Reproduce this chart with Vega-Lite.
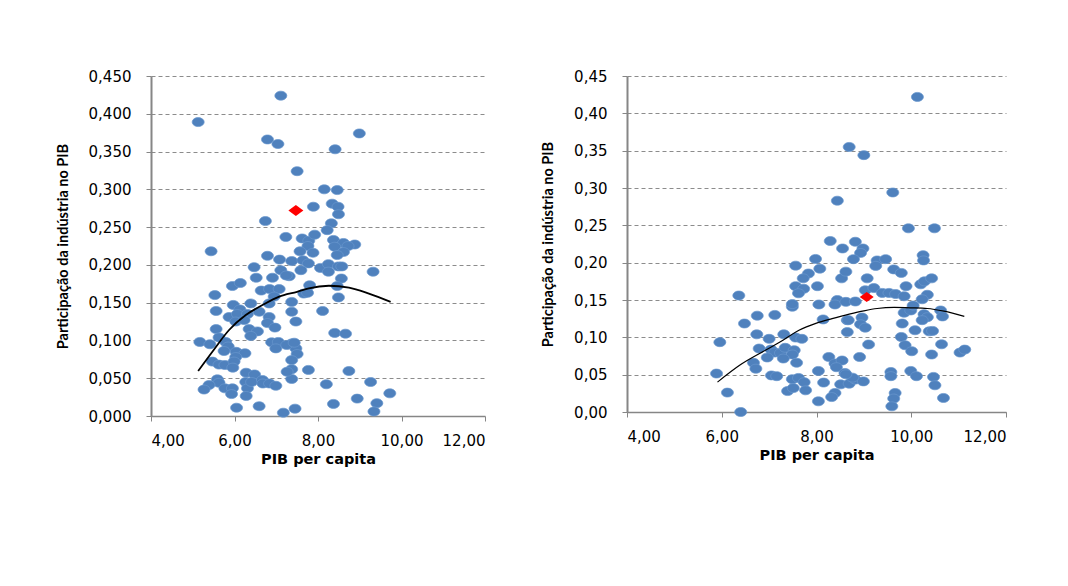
{
  "$schema": "https://vega.github.io/schema/vega-lite/v6.json",
  "padding": {"left": 55, "top": 69, "right": 5, "bottom": 5},
  "bounds": "flush",
  "spacing": 142,
  "config": {
    "locale": {"number": {"decimal": ",", "thousands": ".", "grouping": [3], "currency": ["", ""]}},
    "view": {"stroke": null},
    "axis": {
      "labelFont": "DejaVu Sans", "labelFontSize": 15, "labelColor": "#000000",
      "titleColor": "#000000", "titleFontWeight": "bold",
      "domainColor": "#868686", "tickColor": "#868686", "tickSize": 5
    },
    "axisX": {"grid": false, "domainWidth": 1.5, "labelPadding": 12, "titlePadding": 4, "titleFont": "DejaVu Sans", "titleFontSize": 14.5},
    "axisY": {"grid": true, "gridDash": [4, 3], "gridColor": "#8c8c8c", "gridWidth": 1, "domainWidth": 2, "labelPadding": 15, "titlePadding": 18, "titleFont": "Lato", "titleFontSize": 14.5}
  },
  "datasets": {
    "left": [
      {"x":7.11,"y":0.424},{"x":5.13,"y":0.389},{"x":6.79,"y":0.366},{"x":7.04,"y":0.360},{"x":8.99,"y":0.374},{"x":8.41,"y":0.353},{"x":7.50,"y":0.324},{"x":8.15,"y":0.300},{"x":8.46,"y":0.299},
      {"x":7.89,"y":0.277},{"x":8.34,"y":0.281},{"x":8.48,"y":0.277},{"x":8.49,"y":0.267},{"x":6.74,"y":0.258},{"x":8.32,"y":0.255},{"x":8.22,"y":0.246},{"x":7.23,"y":0.237},{"x":7.62,"y":0.235},{"x":7.78,"y":0.232},{"x":7.92,"y":0.240},{"x":8.37,"y":0.233},{"x":8.61,"y":0.229},{"x":8.88,"y":0.227},{"x":8.72,"y":0.225},{"x":8.40,"y":0.224},{"x":7.76,"y":0.225},{"x":5.44,"y":0.218},
      {"x":7.57,"y":0.218},{"x":7.88,"y":0.216},{"x":8.61,"y":0.217},{"x":8.46,"y":0.213},{"x":7.37,"y":0.205},{"x":7.64,"y":0.206},{"x":7.77,"y":0.202},{"x":7.59,"y":0.193},{"x":8.06,"y":0.196},{"x":8.25,"y":0.201},{"x":8.25,"y":0.191},{"x":8.49,"y":0.198},{"x":8.57,"y":0.198},{"x":9.32,"y":0.191},{"x":8.56,"y":0.182},{"x":7.31,"y":0.185},{"x":7.80,"y":0.173},{"x":8.46,"y":0.172},{"x":7.66,"y":0.162},{"x":7.75,"y":0.163},{"x":8.49,"y":0.157},{"x":7.37,"y":0.151},{"x":7.37,"y":0.138},{"x":8.11,"y":0.139},{"x":7.47,"y":0.125},{"x":8.40,"y":0.110},{"x":8.66,"y":0.109},{"x":7.37,"y":0.096},{"x":7.47,"y":0.0895},{"x":7.50,"y":0.082},{"x":7.37,"y":0.074},{"x":7.37,"y":0.062},{"x":7.77,"y":0.061},{"x":8.74,"y":0.0595},{"x":7.37,"y":0.049},{"x":8.20,"y":0.042},{"x":9.26,"y":0.045},{"x":9.72,"y":0.030},{"x":8.94,"y":0.023},{"x":9.41,"y":0.017},{"x":8.37,"y":0.016},{"x":9.34,"y":0.006},{"x":7.45,"y":0.0097},
      {"x":6.79,"y":0.212},{"x":7.08,"y":0.207},{"x":6.47,"y":0.197},{"x":6.52,"y":0.183},{"x":6.91,"y":0.183},{"x":7.11,"y":0.193},{"x":7.24,"y":0.186},{"x":5.95,"y":0.172},{"x":6.14,"y":0.176},{"x":6.64,"y":0.166},{"x":6.84,"y":0.168},{"x":7.07,"y":0.168},{"x":6.95,"y":0.158},{"x":5.53,"y":0.160},{"x":5.97,"y":0.147},{"x":6.39,"y":0.149},{"x":6.83,"y":0.149},{"x":5.56,"y":0.139},{"x":6.13,"y":0.141},{"x":5.87,"y":0.131},{"x":6.07,"y":0.135},{"x":6.31,"y":0.135},{"x":6.59,"y":0.138},{"x":6.03,"y":0.125},{"x":6.23,"y":0.127},{"x":6.83,"y":0.131},{"x":6.79,"y":0.123},{"x":6.97,"y":0.117},{"x":5.56,"y":0.115},{"x":5.63,"y":0.104},{"x":6.35,"y":0.115},{"x":6.55,"y":0.112},{"x":6.39,"y":0.106},{"x":5.17,"y":0.098},{"x":5.41,"y":0.095},{"x":5.79,"y":0.098},{"x":5.85,"y":0.092},{"x":5.75,"y":0.086},{"x":6.04,"y":0.085},{"x":6.25,"y":0.083},{"x":6.03,"y":0.078},{"x":6.89,"y":0.0975},{"x":7.05,"y":0.098},{"x":6.99,"y":0.0895},{"x":7.25,"y":0.094},{"x":7.43,"y":0.097},{"x":5.47,"y":0.072},{"x":5.63,"y":0.068},{"x":5.77,"y":0.0675},{"x":5.99,"y":0.072},{"x":5.96,"y":0.064},{"x":7.26,"y":0.0586},{"x":6.28,"y":0.0573},{"x":6.48,"y":0.055},{"x":5.59,"y":0.0485},{"x":5.63,"y":0.044},{"x":5.39,"y":0.041},{"x":5.27,"y":0.035},{"x":5.77,"y":0.0366},{"x":5.95,"y":0.0366},{"x":5.93,"y":0.029},{"x":6.27,"y":0.045},{"x":6.31,"y":0.0366},{"x":6.41,"y":0.045},{"x":6.67,"y":0.0476},{"x":6.68,"y":0.043},{"x":6.84,"y":0.043},{"x":6.99,"y":0.040},{"x":6.28,"y":0.0265},{"x":6.05,"y":0.011},{"x":6.59,"y":0.013},{"x":7.17,"y":0.0044}
    ],
    "leftRed": [{"x":7.47,"y":0.272}],
    "leftFit": [
      {"x":5.13,"y":0.0595},{"x":5.47,"y":0.085},{"x":5.87,"y":0.1138},{"x":6.27,"y":0.1336},{"x":6.67,"y":0.1468},{"x":7.07,"y":0.158},{"x":7.5,"y":0.1644},{"x":7.78,"y":0.169},{"x":8.26,"y":0.1724},{"x":8.74,"y":0.170},{"x":9.22,"y":0.162},{"x":9.74,"y":0.151}
    ],
    "right": [
      {"x":10.13,"y":0.422},{"x":8.69,"y":0.355},{"x":9.00,"y":0.344},{"x":9.61,"y":0.294},{"x":8.44,"y":0.283},{"x":9.94,"y":0.246},{"x":10.49,"y":0.246},{"x":8.29,"y":0.229},{"x":8.82,"y":0.228},{"x":8.55,"y":0.219},{"x":8.98,"y":0.219},{"x":8.93,"y":0.213},
      {"x":7.98,"y":0.205},{"x":8.07,"y":0.192},{"x":7.56,"y":0.196},{"x":7.83,"y":0.1855},{"x":7.72,"y":0.179},{"x":7.56,"y":0.1685},{"x":7.73,"y":0.165},{"x":7.62,"y":0.159},{"x":8.02,"y":0.1685},{"x":8.53,"y":0.179},{"x":8.62,"y":0.188},{"x":8.78,"y":0.2047},
      {"x":6.36,"y":0.156},{"x":7.49,"y":0.141},{"x":7.49,"y":0.1445},{"x":8.05,"y":0.144},{"x":8.44,"y":0.150},{"x":8.39,"y":0.144},{"x":8.62,"y":0.1475},{"x":8.14,"y":0.124},{"x":8.65,"y":0.123},{"x":8.65,"y":0.107},
      {"x":6.75,"y":0.129},{"x":7.12,"y":0.130},{"x":6.48,"y":0.1185},{"x":6.74,"y":0.104},{"x":5.96,"y":0.0935},{"x":7.31,"y":0.104},{"x":7.56,"y":0.0997},{"x":7.69,"y":0.098},{"x":7.00,"y":0.098},{"x":6.79,"y":0.085},{"x":7.04,"y":0.0836},{"x":7.12,"y":0.0796},{"x":7.24,"y":0.079},{"x":7.34,"y":0.086},{"x":7.53,"y":0.0827},{"x":7.49,"y":0.077},{"x":6.96,"y":0.073},{"x":7.30,"y":0.0716},{"x":7.58,"y":0.066},{"x":6.67,"y":0.066},{"x":6.72,"y":0.058},{"x":8.26,"y":0.0737},{"x":8.39,"y":0.065},{"x":8.54,"y":0.069},{"x":8.42,"y":0.060},{"x":5.89,"y":0.0515},{"x":7.05,"y":0.049},{"x":7.16,"y":0.048},{"x":7.49,"y":0.044},{"x":7.62,"y":0.0456},{"x":7.74,"y":0.040},{"x":7.77,"y":0.029},{"x":7.39,"y":0.028},{"x":7.51,"y":0.032},{"x":8.04,"y":0.055},{"x":8.15,"y":0.0394},{"x":8.51,"y":0.037},{"x":8.39,"y":0.0255},{"x":8.32,"y":0.020},{"x":8.04,"y":0.0143},{"x":8.60,"y":0.0523},{"x":6.12,"y":0.026},{"x":6.40,"y":0.000},
      {"x":9.28,"y":0.203},{"x":9.46,"y":0.2047},{"x":9.25,"y":0.1957},{"x":10.25,"y":0.210},{"x":10.26,"y":0.203},{"x":9.63,"y":0.191},{"x":9.79,"y":0.1863},{"x":9.07,"y":0.179},{"x":9.03,"y":0.163},{"x":9.21,"y":0.166},{"x":9.89,"y":0.1685},{"x":10.20,"y":0.171},{"x":10.28,"y":0.175},{"x":10.43,"y":0.179},{"x":9.39,"y":0.1595},{"x":9.53,"y":0.1595},{"x":9.67,"y":0.158},{"x":9.85,"y":0.155},{"x":10.34,"y":0.157},{"x":10.23,"y":0.151},{"x":8.82,"y":0.148},{"x":8.67,"y":0.123},{"x":8.96,"y":0.1265},{"x":8.93,"y":0.1175},{"x":9.03,"y":0.113},{"x":9.85,"y":0.133},{"x":9.99,"y":0.136},{"x":10.04,"y":0.1426},{"x":10.27,"y":0.131},{"x":10.34,"y":0.127},{"x":10.23,"y":0.123},{"x":10.62,"y":0.136},{"x":10.66,"y":0.128},{"x":9.81,"y":0.1185},{"x":10.08,"y":0.1095},{"x":10.38,"y":0.108},{"x":10.45,"y":0.1086},{"x":9.79,"y":0.1005},{"x":9.87,"y":0.0894},{"x":10.01,"y":0.0814},{"x":9.10,"y":0.0904},{"x":10.64,"y":0.0907},{"x":10.43,"y":0.077},{"x":11.03,"y":0.0796},{"x":11.13,"y":0.0836},{"x":8.91,"y":0.0737},{"x":9.57,"y":0.0536},{"x":9.57,"y":0.048},{"x":9.99,"y":0.055},{"x":10.11,"y":0.048},{"x":10.47,"y":0.047},{"x":10.50,"y":0.0358},{"x":10.68,"y":0.0188},{"x":9.66,"y":0.0255},{"x":9.63,"y":0.018},{"x":9.59,"y":0.0076},{"x":8.69,"y":0.038},{"x":8.82,"y":0.0434},{"x":8.99,"y":0.041},{"x":8.76,"y":0.046},{"x":8.62,"y":0.0505}
    ],
    "rightRed": [{"x":9.06,"y":0.154}],
    "rightFit": [
      {"x":5.91,"y":0.040},{"x":6.4,"y":0.0635},{"x":6.93,"y":0.083},{"x":7.3,"y":0.0965},{"x":7.63,"y":0.1095},{"x":8.0,"y":0.119},{"x":8.33,"y":0.125},{"x":8.69,"y":0.131},{"x":9.0,"y":0.1355},{"x":9.28,"y":0.1386},{"x":9.64,"y":0.140},{"x":10.0,"y":0.1395},{"x":10.34,"y":0.1386},{"x":10.69,"y":0.135},{"x":11.12,"y":0.128}
    ]
  },
  "hconcat": [
    {
      "width": 334,
      "height": 340,
      "encoding": {
        "x": {"field": "x", "type": "quantitative", "scale": {"domain": [4, 12], "nice": false, "zero": false},
              "axis": {"values": [4, 6, 8, 10, 12], "format": ".2f", "title": "PIB per capita"}},
        "y": {"field": "y", "type": "quantitative", "scale": {"domain": [0, 0.45], "nice": false},
              "axis": {"values": [0, 0.05, 0.1, 0.15, 0.2, 0.25, 0.3, 0.35, 0.4, 0.45], "format": ".3f", "title": "Participação da indústria no PIB"}}
      },
      "layer": [
        {"data": {"name": "left"}, "mark": {"type": "point", "filled": true, "shape": "M -1 0 A 1 0.75 0 1 0 1 0 A 1 0.75 0 1 0 -1 0 Z", "size": 144, "color": "#4F81BD", "opacity": 1, "stroke": "#6A98CF", "strokeWidth": 0.7}},
        {"data": {"name": "leftFit"}, "mark": {"type": "line", "color": "#000000", "strokeWidth": 1.8, "interpolate": "monotone"}},
        {"data": {"name": "leftRed"}, "mark": {"type": "point", "filled": true, "shape": "M 0 -0.72 L 1 0 L 0 0.72 L -1 0 Z", "size": 225, "color": "#FF0000", "opacity": 1}}
      ]
    },
    {
      "width": 379,
      "height": 336,
      "encoding": {
        "x": {"field": "x", "type": "quantitative", "scale": {"domain": [4, 12], "nice": false, "zero": false},
              "axis": {"values": [4, 6, 8, 10, 12], "format": ".2f", "title": "PIB per capita"}},
        "y": {"field": "y", "type": "quantitative", "scale": {"domain": [0, 0.45], "nice": false},
              "axis": {"values": [0, 0.05, 0.1, 0.15, 0.2, 0.25, 0.3, 0.35, 0.4, 0.45], "format": ".2f", "title": "Participação da indústria no PIB"}}
      },
      "layer": [
        {"data": {"name": "right"}, "mark": {"type": "point", "filled": true, "shape": "M -1 0 A 1 0.75 0 1 0 1 0 A 1 0.75 0 1 0 -1 0 Z", "size": 144, "color": "#4F81BD", "opacity": 1, "stroke": "#6A98CF", "strokeWidth": 0.7}},
        {"data": {"name": "rightFit"}, "mark": {"type": "line", "color": "#000000", "strokeWidth": 1.2, "interpolate": "monotone"}},
        {"data": {"name": "rightRed"}, "mark": {"type": "point", "filled": true, "shape": "M 0 -0.72 L 1 0 L 0 0.72 L -1 0 Z", "size": 196, "color": "#FF0000", "opacity": 1}}
      ]
    }
  ]
}
